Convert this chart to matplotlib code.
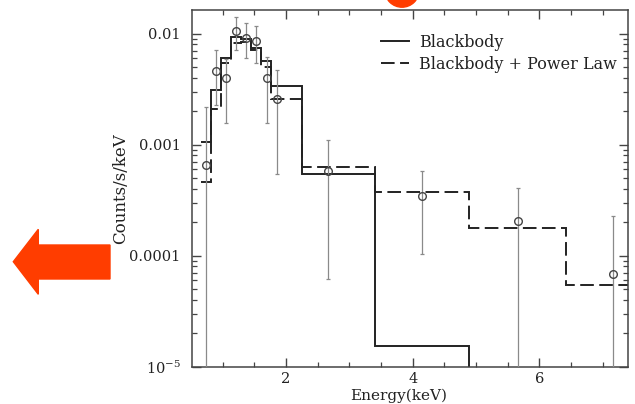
import matplotlib
matplotlib.use("Agg")
import matplotlib.pyplot as plt
from matplotlib.patches import Polygon, Ellipse
from matplotlib.ticker import LogLocator, NullFormatter, MultipleLocator
import numpy as np

# ---- data ----
energy = [0.73, 0.89, 1.05, 1.21, 1.37, 1.53, 1.70, 1.86, 2.66, 4.14, 5.66, 7.16]
counts = [6.5e-4, 4.6e-3, 3.96e-3, 1.057e-2, 9.2e-3, 8.6e-3, 3.96e-3, 2.6e-3,
          5.8e-4, 3.47e-4, 2.06e-4, 6.8e-5]
upper = [2.2e-3, 7.1e-3, 5.9e-3, 1.40e-2, 1.26e-2, 1.17e-2, 6.2e-3, 4.7e-3,
         1.1e-3, 5.8e-4, 4.1e-4, 2.28e-4]
lower = [1e-6, 2.3e-3, 1.56e-3, 7.1e-3, 6.0e-3, 5.5e-3, 1.56e-3, 5.4e-4,
         6.2e-5, 1.03e-4, 1e-6, 1e-6]

model_edges = [0.65, 0.81, 0.97, 1.13, 1.29, 1.45, 1.61, 1.77, 2.26, 3.40, 4.89, 6.42, 7.9]
blackbody = [1.05e-3, 3.1e-3, 6.0e-3, 9.3e-3, 9.0e-3, 7.4e-3, 5.7e-3, 3.4e-3,
             5.5e-4, 1.54e-5, 1e-7, 1e-7]
bb_powerlaw = [4.6e-4, 2.1e-3, 5.5e-3, 8.2e-3, 8.5e-3, 7.2e-3, 5.0e-3, 2.6e-3,
               6.25e-4, 3.72e-4, 1.77e-4, 5.45e-5]

ytick_vals = [1e-5, 1e-4, 1e-3, 1e-2]
ytick_labels = [r"$10^{-5}$", "0.0001", "0.001", "0.01"]
xtick_vals = [2, 4, 6]
legend_labels = ["Blackbody", "Blackbody + Power Law"]

# ---- figure ----
plt.rcParams["font.family"] = ["DejaVu Serif"]
plt.rcParams["mathtext.fontset"] = "dejavuserif"

W, H = 635, 404
fig = plt.figure(figsize=(W / 100, H / 100), dpi=100)
L, R, T, B = 191.7, 628, 10, 366.7
ax = fig.add_axes([L / W, 1 - B / H, (R - L) / W, (B - T) / H])

ax.set_yscale("log")
ax.set_xlim(0.511, 7.40)
ax.set_ylim(1e-5, 10 ** (-5 + (B - T) / 111.0))

ink = "#222222"
ax.stairs(blackbody, model_edges, baseline=None, color=ink, lw=1.4,
          label=legend_labels[0])
ax.stairs(bb_powerlaw, model_edges, baseline=None, color=ink, lw=1.4,
          linestyle=(0, (7, 2.8)), label=legend_labels[1])

c = np.array(counts)
yerr = np.vstack([c - np.array(lower), np.array(upper) - c])
ax.errorbar(energy, counts, yerr=yerr, fmt="none", ecolor="#8a8a8a",
            elinewidth=0.9, capsize=1.6, capthick=0.9, zorder=3)
ax.plot(energy, counts, "o", ms=5.5, mfc="none", mec="#444444", mew=1.0, zorder=4)

# ticks
ax.set_xticks(xtick_vals)
ax.xaxis.set_minor_locator(MultipleLocator(0.5))
ax.set_yticks(ytick_vals)
ax.set_yticklabels(ytick_labels)
ax.yaxis.set_minor_locator(LogLocator(base=10, subs=np.arange(2, 10)))
ax.yaxis.set_minor_formatter(NullFormatter())
ax.tick_params(which="both", direction="in", top=True, right=True,
               color="#444444", labelsize=10.5, labelcolor="#222222")
ax.tick_params(which="major", length=6.5, width=1.0)
ax.tick_params(which="minor", length=3.5, width=0.9)
ax.tick_params(axis="y", pad=8)
ax.tick_params(axis="x", pad=4)
for s in ax.spines.values():
    s.set_color("#444444")
    s.set_linewidth(1.1)

ax.set_ylabel("Counts/s/keV", fontsize=12, color="#222222")
ax.yaxis.set_label_coords((129 - L) / (R - L), 0.5)
ax.set_xlabel("Energy(keV)", fontsize=11, color="#222222")
ax.xaxis.set_label_coords((399 - L) / (R - L), -(389 - B) / (B - T))

leg = ax.legend(loc="upper left", bbox_to_anchor=((381 - L) / (R - L), 1 - (34 - T) / (B - T)),
                frameon=False, fontsize=11.5, handlelength=1.75, handletextpad=0.65,
                labelspacing=0.3, borderaxespad=0, borderpad=0)
for t in leg.get_texts():
    t.set_color("#222222")

# red overlay shapes
arrow_px = [(13.3, 261.7), (38.3, 229.3), (38.3, 245), (110, 245),
            (110, 279), (38.3, 279), (38.3, 294.3)]
arrow = Polygon([(x / W, 1 - y / H) for x, y in arrow_px], closed=True,
                transform=fig.transFigure, color="#FF3D00", zorder=10)
fig.patches.append(arrow)
top = Ellipse((402 / W, 1 + 9.3 / H), 34 / W, 33 / H,
              transform=fig.transFigure, color="#FF3D00", zorder=10)
fig.patches.append(top)

fig.savefig("out.png", dpi=100)
